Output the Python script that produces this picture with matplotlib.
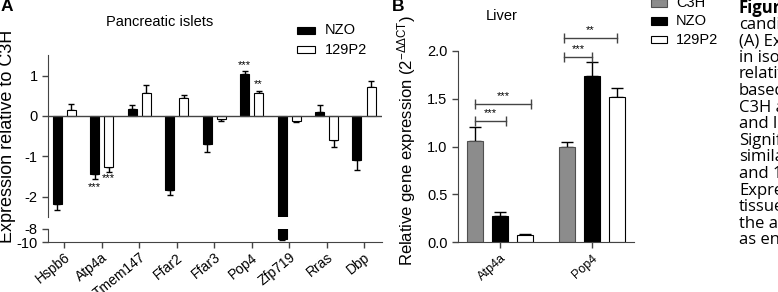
import matplotlib
matplotlib.use("Agg")
import matplotlib.pyplot as plt
from matplotlib.patches import Rectangle
import numpy as np

plt.rcParams['font.family'] = ['Liberation Sans', 'DejaVu Sans']
plt.rcParams['axes.unicode_minus'] = False
plt.rcParams['mathtext.default'] = 'regular'

# panel A - pancreatic islets, relative to C3H
genes_a = ['Hspb6', 'Atp4a', 'Tmem147', 'Ffar2', 'Ffar3', 'Pop4', 'Zfp719', 'Rras', 'Dbp']
nzo_a = [-2.17, -1.43, 0.17, -1.83, -0.69, 1.04, -9.5, 0.10, -1.09]
nzo_a_err = [0.15, 0.13, 0.10, 0.12, 0.20, 0.08, 0.2, 0.18, 0.24]
p129_a = [0.15, -1.26, 0.57, 0.45, -0.07, 0.56, -0.12, -0.59, 0.72]
p129_a_err = [0.15, 0.12, 0.20, 0.07, 0.06, 0.06, 0.03, 0.19, 0.14]
# (gene index, series, label, y)
stars_a = [(1, 0, '***', -1.76), (1, 1, '***', -1.53), (5, 0, '***', 1.27), (5, 1, '**', 0.78)]

# panel B - liver
genes_b = ['Atp4a', 'Pop4']
c3h_b = [1.06, 1.00]
c3h_b_err = [0.14, 0.05]
nzo_b = [0.27, 1.74]
nzo_b_err = [0.04, 0.14]
p129_b = [0.07, 1.52]
p129_b_err = [0.01, 0.09]
# (x start, x end, y, label)
brackets_b = [(-0.27, 0.06, 1.27, '***'), (-0.27, 0.34, 1.45, '***'),
              (0.70, 1.00, 1.94, '***'), (0.70, 1.27, 2.14, '**')]

caption = ['Figure', 'candid', '(A) Ex', 'in iso', 'relativ', 'based', 'C3H a', 'and lo',
           'Signifi', 'similar', 'and 1', 'Expres', 'tissue', 'the ag', 'as enc']

W, H = 778, 292
def fx(p):
    return p / W
def fy(p):
    return 1 - p / H

SP = '#444444'
fig = plt.figure(figsize=(W / 100, H / 100), dpi=100)


def one_sided(ax, x, v, e, cap):
    lo, hi = (e, 0) if v < 0 else (0, e)
    ax.errorbar(x, v, yerr=[[lo], [hi]], fmt='none', ecolor='black',
                elinewidth=1, capsize=cap, capthick=1, zorder=1)


# ---- panel A ----
ax1 = fig.add_axes([fx(48), fy(217), (382 - 48) / W, (217 - 55.3) / H])
ax2 = fig.add_axes([fx(48), fy(242), (382 - 48) / W, 13 / H])
xa = np.arange(len(genes_a))
bw, off = 0.24, 0.187
for ax in (ax1, ax2):
    ax.bar(xa - off, nzo_a, bw, color='black', edgecolor='black', lw=0.8, zorder=2)
    ax.bar(xa + off, p129_a, bw, color='white', edgecolor='black', lw=0.8, zorder=2)
    for i in range(len(genes_a)):
        one_sided(ax, xa[i] - off, nzo_a[i], nzo_a_err[i], 2.5)
        one_sided(ax, xa[i] + off, p129_a[i], p129_a_err[i], 2.5)
    ax.set_xlim(-0.43, 8.48)
    for s in ('top', 'right'):
        ax.spines[s].set_visible(False)
    ax.spines['left'].set_color(SP)
    ax.spines['bottom'].set_color(SP)
    ax.tick_params(colors=SP, labelcolor='black', labelsize=10.5, length=4, width=1)

ax1.set_ylim(-2.5, 1.5)
ax1.spines['bottom'].set_visible(False)
ax1.axhline(0, color=SP, lw=1, zorder=3)
ax1.set_xticks([])
ax1.set_yticks([-2, -1, 0, 1])
ax1.set_yticklabels(['-2', '-1', '0', '1'])
ax1.patch.set_visible(False)

ax2.set_ylim(-10, -8)
ax2.set_yticks([-10, -8])
ax2.set_yticklabels(['-10', '-8'])
ax2.set_xticks(xa)
ax2.set_xticklabels(genes_a, rotation=39, ha='right', rotation_mode='anchor', fontsize=10)
ax2.tick_params(axis='x', pad=2)
ax2.patch.set_visible(False)

for i, s, lab, y in stars_a:
    x = xa[i] - off if s == 0 else xa[i] + off
    ax1.text(x, y, lab, ha='center', va='center', fontsize=8)

fig.text(fx(160), fy(22), 'Pancreatic islets', ha='center', va='center', fontsize=10.5)
fig.text(fx(8), fy(136), 'Expression relative to C3H', rotation=90,
         ha='center', va='center', fontsize=13)
fig.text(fx(1), fy(-1), 'A', ha='left', va='top', fontsize=12.5, fontweight='bold')

fig.patches.append(Rectangle((fx(297), fy(34)), 18 / W, 7 / H, transform=fig.transFigure,
                             facecolor='black', edgecolor='black', lw=0.8))
fig.patches.append(Rectangle((fx(297), fy(53)), 18 / W, 7 / H, transform=fig.transFigure,
                             facecolor='white', edgecolor='black', lw=0.8))
fig.text(fx(325), fy(30.5), 'NZO', va='center', fontsize=10.5)
fig.text(fx(325), fy(49.5), '129P2', va='center', fontsize=10.5)

# ---- panel B ----
axb = fig.add_axes([fx(458), fy(242), (634 - 458) / W, (242 - 51) / H])
xb = np.arange(len(genes_b))
bwb, offb = 0.174, 0.27
axb.bar(xb - offb, c3h_b, bwb, color='#8c8c8c', edgecolor='#505050', lw=0.8, zorder=2)
axb.bar(xb, nzo_b, bwb, color='black', edgecolor='black', lw=0.8, zorder=2)
axb.bar(xb + offb, p129_b, bwb, color='white', edgecolor='black', lw=0.8, zorder=2)
for i in range(len(genes_b)):
    one_sided(axb, xb[i] - offb, c3h_b[i], c3h_b_err[i], 4.5)
    one_sided(axb, xb[i], nzo_b[i], nzo_b_err[i], 4.5)
    one_sided(axb, xb[i] + offb, p129_b[i], p129_b_err[i], 4.5)
for x1, x2, y, lab in brackets_b:
    axb.plot([x1, x2], [y, y], color=SP, lw=1, marker='|', markersize=7,
             markeredgewidth=1, clip_on=False)
    axb.text((x1 + x2) / 2, y + 0.03, lab, ha='center', va='bottom', fontsize=8,
             clip_on=False)
axb.set_xlim(-0.457, 1.457)
axb.set_ylim(0, 2.0)
axb.set_yticks([0, 0.5, 1.0, 1.5, 2.0])
axb.set_yticklabels(['0.0', '0.5', '1.0', '1.5', '2.0'])
axb.set_xticks(xb)
axb.set_xticklabels(genes_b, rotation=42, ha='right', rotation_mode='anchor', fontsize=9)
for s in ('top', 'right'):
    axb.spines[s].set_visible(False)
axb.spines['left'].set_color(SP)
axb.spines['bottom'].set_color(SP)
axb.tick_params(colors=SP, labelcolor='black', labelsize=10.5, length=4, width=1)
axb.tick_params(axis='x', labelsize=9)
axb.patch.set_visible(False)

fig.text(fx(502), fy(16), 'Liver', ha='center', va='center', fontsize=10.5)
fig.text(fx(407), fy(140), r'Relative gene expression (2$^{-\Delta\Delta CT}$)', rotation=90,
         ha='center', va='center', fontsize=12)
fig.text(fx(392), fy(-1), 'B', ha='left', va='top', fontsize=12.5, fontweight='bold')

leg_b = [('C3H', '#8c8c8c', '#505050', 3), ('NZO', 'black', 'black', 21), ('129P2', 'white', 'black', 39.5)]
for lab, fc, ec, yc in leg_b:
    fig.patches.append(Rectangle((fx(651), fy(yc + 3.8)), 16 / W, 7.5 / H,
                                 transform=fig.transFigure, facecolor=fc, edgecolor=ec, lw=0.8))
    fig.text(fx(676), fy(yc), lab, va='center', fontsize=10.5)

# clipped caption column on the right
for i, line in enumerate(caption):
    fig.text(fx(739), fy(8 + 16.6 * i), line, va='center', fontsize=12,
             family=['Open Sans', 'DejaVu Sans'], fontweight='bold' if i == 0 else 'normal')

fig.savefig('out.png', dpi=100)
